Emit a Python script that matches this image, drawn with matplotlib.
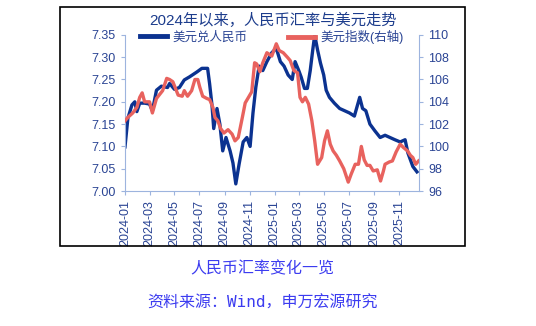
import matplotlib
matplotlib.use("Agg")
import matplotlib.pyplot as plt
import matplotlib.dates as mdates
from matplotlib.patches import Rectangle
import pandas as pd

plt.rcParams['font.family'] = ['Liberation Sans', 'Noto Sans CJK SC', 'DejaVu Sans']

# 美元兑人民币 (左轴)
cny_dates = ['2024-01-01', '2024-01-08', '2024-01-18', '2024-01-25', '2024-01-30', '2024-02-06',
             '2024-02-18', '2024-03-01', '2024-03-08', '2024-03-18', '2024-03-30', '2024-04-14',
             '2024-04-19', '2024-05-01', '2024-05-13', '2024-05-25', '2024-06-07', '2024-06-25',
             '2024-07-07', '2024-07-21', '2024-07-26', '2024-08-01', '2024-08-05', '2024-08-13',
             '2024-08-20', '2024-08-27', '2024-09-04', '2024-09-14', '2024-09-21', '2024-09-28',
             '2024-10-06', '2024-10-16', '2024-10-25', '2024-11-02', '2024-11-09', '2024-11-16',
             '2024-11-24', '2024-12-03', '2024-12-13', '2024-12-25', '2025-01-05', '2025-01-15',
             '2025-01-24', '2025-02-03', '2025-02-13', '2025-02-20', '2025-03-01', '2025-03-07',
             '2025-03-15', '2025-03-22', '2025-03-29', '2025-04-04', '2025-04-09', '2025-04-16',
             '2025-04-23', '2025-05-01', '2025-05-07', '2025-05-15', '2025-05-27', '2025-06-09',
             '2025-06-21', '2025-07-03', '2025-07-15', '2025-07-28', '2025-08-04', '2025-08-12',
             '2025-08-22', '2025-09-03', '2025-09-16', '2025-09-28', '2025-10-10', '2025-10-22',
             '2025-11-04', '2025-11-16', '2025-11-23', '2025-12-05', '2025-12-15']
cny_values = [7.099, 7.163, 7.193, 7.200, 7.178, 7.197,
              7.197, 7.195, 7.180, 7.226, 7.235, 7.232,
              7.241, 7.228, 7.232, 7.249, 7.256, 7.267,
              7.275, 7.275, 7.240, 7.190, 7.140, 7.185,
              7.150, 7.090, 7.120, 7.090, 7.063, 7.016,
              7.060, 7.110, 7.120, 7.100, 7.175, 7.233,
              7.280, 7.270, 7.290, 7.310, 7.320, 7.290,
              7.280, 7.260, 7.250, 7.290, 7.270, 7.255,
              7.230, 7.230, 7.270, 7.315, 7.350, 7.316,
              7.287, 7.260, 7.226, 7.210, 7.197, 7.185,
              7.180, 7.175, 7.168, 7.210, 7.185, 7.180,
              7.150, 7.135, 7.120, 7.125, 7.120, 7.115,
              7.110, 7.115, 7.085, 7.055, 7.043]

# 美元指数 (右轴)
dxy_dates = ['2024-01-01', '2024-01-08', '2024-01-20', '2024-01-30', '2024-02-06', '2024-02-12',
             '2024-02-18', '2024-03-01', '2024-03-08', '2024-03-18', '2024-04-02', '2024-04-12',
             '2024-04-19', '2024-04-27', '2024-05-10', '2024-05-20', '2024-05-25', '2024-06-02',
             '2024-06-12', '2024-06-20', '2024-06-27', '2024-07-02', '2024-07-09', '2024-07-19',
             '2024-07-26', '2024-08-03', '2024-08-08', '2024-08-15', '2024-08-22', '2024-08-30',
             '2024-09-09', '2024-09-19', '2024-09-26', '2024-10-04', '2024-10-14', '2024-10-21',
             '2024-10-29', '2024-11-06', '2024-11-13', '2024-11-18', '2024-11-26', '2024-12-03',
             '2024-12-13', '2024-12-25', '2025-01-05', '2025-01-12', '2025-01-22', '2025-02-01',
             '2025-02-08', '2025-02-17', '2025-02-26', '2025-03-04', '2025-03-10', '2025-03-17',
             '2025-03-25', '2025-04-02', '2025-04-09', '2025-04-16', '2025-04-26', '2025-05-03',
             '2025-05-10', '2025-05-17', '2025-05-24', '2025-06-01', '2025-06-09', '2025-06-19',
             '2025-06-30', '2025-07-07', '2025-07-17', '2025-07-25', '2025-08-01', '2025-08-08',
             '2025-08-15', '2025-08-22', '2025-08-30', '2025-09-09', '2025-09-17', '2025-09-24',
             '2025-09-28', '2025-10-08', '2025-10-16', '2025-10-25', '2025-11-04', '2025-11-12',
             '2025-11-22', '2025-11-29', '2025-12-05', '2025-12-12', '2025-12-19']
dxy_values = [102.3, 102.6, 103.0, 103.5, 104.4, 104.8,
              104.0, 104.0, 103.0, 104.3, 105.0, 106.1,
              106.0, 105.8, 104.6, 104.5, 105.0, 104.5,
              105.0, 106.0, 106.0, 105.3, 104.5, 104.3,
              104.2, 103.5, 102.6, 102.3, 101.6, 101.2,
              101.5, 101.1, 100.5, 100.8, 102.6, 103.9,
              104.4, 104.9, 107.5, 107.4, 106.7, 107.5,
              108.4, 108.1, 109.2, 108.6, 108.4, 108.0,
              107.7, 106.8, 106.6, 104.4, 104.0, 104.4,
              103.8, 102.3, 100.5, 98.4, 99.0, 100.5,
              101.4, 100.2, 99.6, 99.2, 98.7, 98.0,
              96.8, 97.5, 98.4, 98.4, 100.0, 98.8,
              98.3, 98.3, 97.8, 97.9, 96.9, 97.8,
              98.4, 98.6, 98.7, 99.5, 100.2, 99.9,
              99.6, 99.2, 99.0, 98.4, 98.7]

left_ticks = [7.00, 7.05, 7.10, 7.15, 7.20, 7.25, 7.30, 7.35]
right_ticks = [96, 98, 100, 102, 104, 106, 108, 110]

blue = '#0b3290'
red = '#e8625e'
axis_col = '#9db4de'
text_col = '#2a4494'

fig = plt.figure(figsize=(5.36, 3.26), dpi=100)
ax = fig.add_axes([0.2332, 0.414, 0.5485, 0.479])
ax2 = ax.twinx()

l1, = ax.plot(pd.to_datetime(cny_dates), cny_values, color=blue, lw=2.4, label='美元兑人民币')
l2, = ax2.plot(pd.to_datetime(dxy_dates), dxy_values, color=red, lw=2.4, label='美元指数(右轴)')

ax.set_xlim(pd.Timestamp('2024-01-01'), pd.Timestamp('2025-12-20'))
ax.set_ylim(7.00, 7.35)
ax2.set_ylim(96, 110)
ax.set_yticks(left_ticks)
ax.set_yticklabels(['%.2f' % v for v in left_ticks])
ax2.set_yticks(right_ticks)
ax.xaxis.set_major_locator(mdates.MonthLocator(bymonth=[1, 3, 5, 7, 9, 11]))
ax.xaxis.set_major_formatter(mdates.DateFormatter('%Y-%m'))
for lab in ax.get_xticklabels():
    lab.set_rotation(90)

for a in (ax, ax2):
    a.spines['top'].set_visible(False)
    for s in ('left', 'right', 'bottom'):
        a.spines[s].set_color(axis_col)
    a.tick_params(colors=axis_col, labelcolor=text_col, labelsize=9, length=3)
ax.spines['right'].set_visible(False)
ax2.spines['left'].set_visible(False)
ax2.spines['bottom'].set_visible(False)

leg1 = ax.legend(handles=[l1], loc='center left', bbox_to_anchor=(0.05, 0.985), frameon=False,
                 fontsize=9, handlelength=2.2, handletextpad=0.4, borderpad=0, borderaxespad=0,
                 labelcolor=text_col)
for h in leg1.get_lines():
    h.set_linewidth(3.5)
leg2 = ax2.legend(handles=[l2], loc='center left', bbox_to_anchor=(0.554, 0.985), frameon=False,
                  fontsize=9, handlelength=2.2, handletextpad=0.4, borderpad=0, borderaxespad=0,
                  labelcolor=text_col)
for h in leg2.get_lines():
    h.set_linewidth(3.5)

fig.text(0.51, 0.939, '2024年以来，人民币汇率与美元走势', ha='center', va='center',
         fontsize=11, color='#1c3c8c')

fig.add_artist(Rectangle((0.112, 0.245), 0.756, 0.7335, transform=fig.transFigure,
                         fill=False, edgecolor='black', lw=1.2))

cap_col = '#3c3cf0'
fig.text(0.489, 0.175, '人民币汇率变化一览', ha='center', va='center', fontsize=11.5,
         color=cap_col, family=['Noto Sans CJK SC', 'DejaVu Sans'])
fig.text(0.489, 0.07, '资料来源：Wind，申万宏源研究', ha='center', va='center', fontsize=11.5,
         color=cap_col, family=['DejaVu Sans Mono', 'Noto Sans CJK SC'])

fig.savefig('out.png', dpi=100)
